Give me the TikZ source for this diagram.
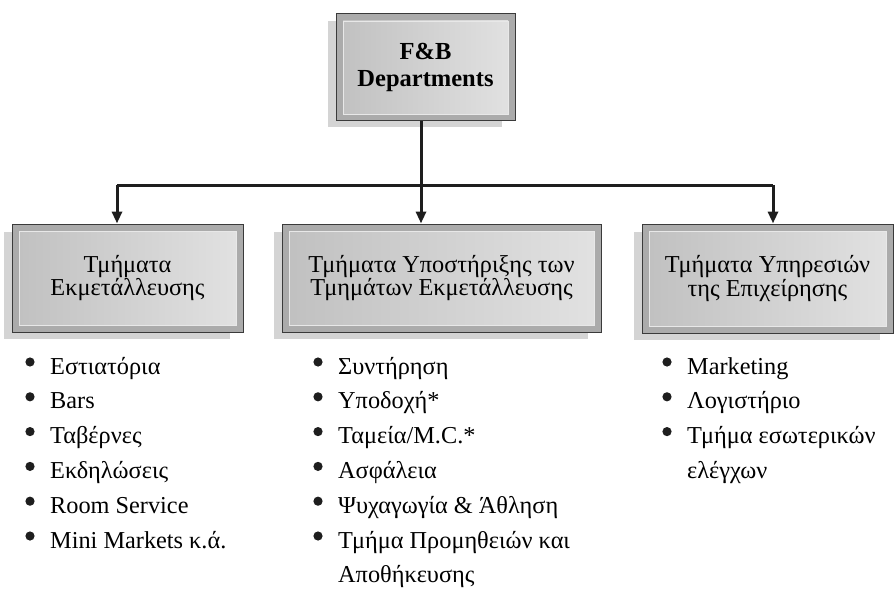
\documentclass[tikz,border=0pt]{standalone}
\usepackage{fontspec}
\setmainfont{Liberation Serif}
\usetikzlibrary{arrows.meta,backgrounds}

\definecolor{framegray}{HTML}{ABABAB}
\definecolor{edgegray}{HTML}{3A3A3A}
\definecolor{shadegray}{HTML}{D4D4D4}
\definecolor{innerleft}{HTML}{C0C0C0}
\definecolor{innerright}{HTML}{E2E2E2}
\definecolor{innerline}{HTML}{E8E8E8}
\definecolor{linkgray}{HTML}{1E1E1E}

\tikzset{
  deptbox/.style={draw=edgegray, line width=1pt, fill=framegray, inner sep=0pt, align=center,
    font=\fontsize{24.3}{22}\selectfont,
    path picture={\shade[left color=innerleft, right color=innerright, draw=innerline, line width=0.8pt]
      ([shift={(7pt,7pt)}]path picture bounding box.south west) rectangle
      ([shift={(-7pt,-7pt)}]path picture bounding box.north east);}},
  link/.style={draw=linkgray, line width=3pt},
  arrow/.style={link, -{Triangle[width=10pt,length=12pt]}},
  item/.style={anchor=base west, inner sep=0pt, font=\fontsize{24.3}{24}\selectfont},
  dot/.style={fill=linkgray},
}

\begin{document}
\begin{tikzpicture}[x=1pt, y=-1pt]
  \useasboundingbox (0,0) rectangle (894,591);

  % top box
  \node[deptbox, minimum width=179pt, minimum height=107pt,
        font=\bfseries\fontsize{24.5}{27}\selectfont] (fb) at (425.5,67.5) {F\&B\\Departments};

  % the three groups of departments
  \node[deptbox, minimum width=231pt, minimum height=108pt] (ops) at (127.5,278) {Τμήματα\\Εκμετάλλευσης};
  \node[deptbox, minimum width=319pt, minimum height=108pt] (sup) at (441.5,278) {Τμήματα Υποστήριξης των\\Τμημάτων Εκμετάλλευσης};
  \node[deptbox, minimum width=251pt, minimum height=109pt] (srv) at (767.5,278.5) {Τμήματα Υπηρεσιών\\της Επιχείρησης};

  % shadows
  \begin{scope}[on background layer]
    \foreach \n in {fb,ops,sup,srv}
      \fill[shadegray] ([shift={(-8pt,-6pt)}]\n.south west) rectangle ([shift={(-14pt,-8pt)}]\n.north east);
  \end{scope}

  % connectors
  \coordinate (jl) at (117,185);
  \coordinate (jm) at (421,185);
  \coordinate (jr) at (773,185);
  \draw[link] (jl) -- (jr);
  \draw[arrow] (jm |- fb.south) -- (jm |- sup.north);
  \draw[arrow] (jl) -- (jl |- ops.north);
  \draw[arrow] (jr) -- (jr |- srv.north);

  % lists
  \foreach \b/\t [count=\i] in {1/Εστιατόρια, 1/Bars, 1/Ταβέρνες, 1/Εκδηλώσεις, 1/Room Service, 1/Mini Markets κ.ά.} {
    \node[item] (ops-\i) at (50,{374+34.8*(\i-1)}) {\t};
    \ifnum\b=1 \fill[dot] ([shift={(-20pt,12pt)}]ops-\i.base west) circle (4.6pt); \fi
  }
  \foreach \b/\t [count=\i] in {1/Συντήρηση, 1/{Υποδοχή*}, 1/{Ταμεία/M.C.*}, 1/Ασφάλεια,
      1/{Ψυχαγωγία \& Άθληση}, 1/Τμήμα Προμηθειών και, 0/Αποθήκευσης} {
    \node[item] (sup-\i) at (338,{374+34.8*(\i-1)}) {\t};
    \ifnum\b=1 \fill[dot] ([shift={(-20pt,12pt)}]sup-\i.base west) circle (4.6pt); \fi
  }
  \foreach \b/\t [count=\i] in {1/Marketing, 1/Λογιστήριο, 1/Τμήμα εσωτερικών, 0/ελέγχων} {
    \node[item] (srv-\i) at (687,{374+34.8*(\i-1)}) {\t};
    \ifnum\b=1 \fill[dot] ([shift={(-20pt,12pt)}]srv-\i.base west) circle (4.6pt); \fi
  }
\end{tikzpicture}
\end{document}
